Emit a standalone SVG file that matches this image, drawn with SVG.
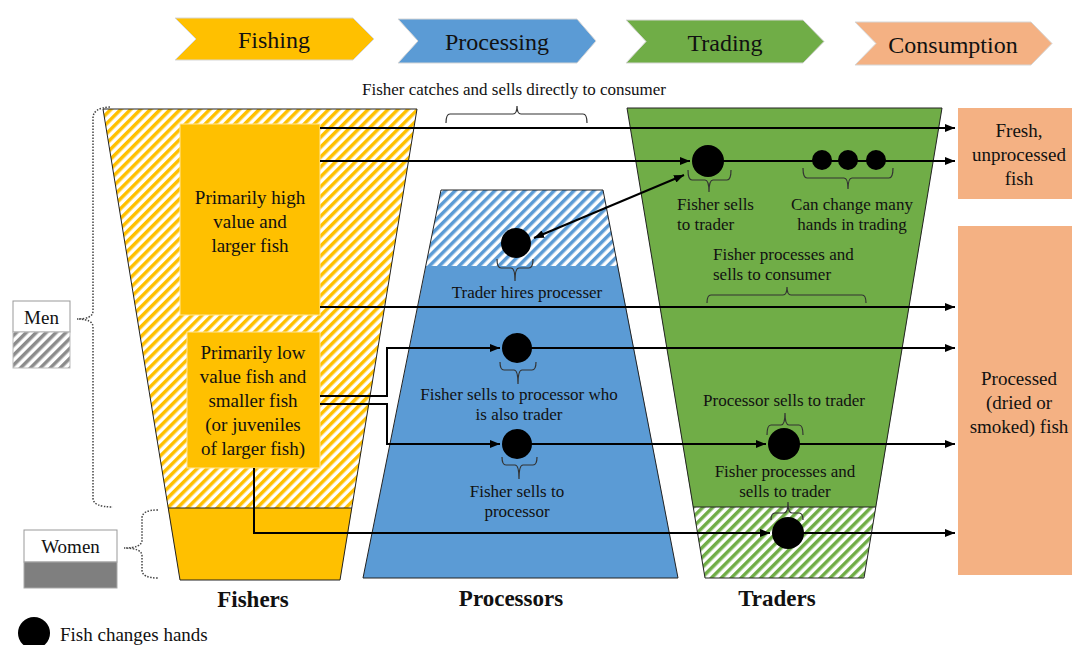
<svg xmlns="http://www.w3.org/2000/svg" width="1072" height="645" viewBox="0 0 1072 645">
<style>
text{font-family:"Liberation Serif","Times New Roman",serif;fill:#111}
.chev{font-size:24px;text-anchor:middle}
.big{font-size:19px;text-anchor:middle}
.sm{font-size:17px;text-anchor:middle}
.sml{font-size:17px}
.ttl{font-size:23px;font-weight:bold;text-anchor:middle}
.ln{fill:none;stroke:#000;stroke-width:2}
.br{fill:none;stroke:#333;stroke-width:1.2}
.dt{fill:none;stroke:#444;stroke-width:1.5;stroke-dasharray:1.5 1.5}
.trap{stroke:#222;stroke-width:1}
.chv{stroke:#d6d6d6;stroke-width:1}
</style>
<defs>
<pattern id="hy" width="7" height="7" patternUnits="userSpaceOnUse" patternTransform="rotate(45)"><rect width="7" height="7" fill="#fff"/><rect width="3.5" height="7" fill="#FFC000"/></pattern>
<pattern id="hb" width="7" height="7" patternUnits="userSpaceOnUse" patternTransform="rotate(45)"><rect width="7" height="7" fill="#fff"/><rect width="3.5" height="7" fill="#5B9BD5"/></pattern>
<pattern id="hg" width="7" height="7" patternUnits="userSpaceOnUse" patternTransform="rotate(45)"><rect width="7" height="7" fill="#fff"/><rect width="3.5" height="7" fill="#70AD47"/></pattern>
<pattern id="hk" width="7" height="7" patternUnits="userSpaceOnUse" patternTransform="rotate(45)"><rect width="7" height="7" fill="#fff"/><rect width="3.5" height="7" fill="#8c8c8c"/></pattern>
<marker id="ah" viewBox="0 0 10 8" refX="10" refY="4" markerWidth="10" markerHeight="8" markerUnits="userSpaceOnUse" orient="auto-start-reverse"><path d="M0,0 L10,4 L0,8 z" fill="#000"/></marker>
</defs>
<rect width="1072" height="645" fill="#fff"/>

<g id="stage-fishing"><polygon class="chv" points="175,18 353,18 374,39 353,60 175,60 196,39" fill="#FFC000"/><text class="chev" x="274" y="48">Fishing</text></g>
<g id="stage-processing"><polygon class="chv" points="398,19 577,19 596,41 577,63 398,63 418,41" fill="#5B9BD5"/><text class="chev" x="497" y="50">Processing</text></g>
<g id="stage-trading"><polygon class="chv" points="626,20 803,20 824,41.5 803,63 626,63 646,41.5" fill="#70AD47"/><text class="chev" x="725" y="51">Trading</text></g>
<g id="stage-consumption"><polygon class="chv" points="855,22 1031,22 1052,43.5 1031,65 855,65 876,43.5" fill="#F4B183"/><text class="chev" x="953" y="53">Consumption</text></g>

<g id="fishers">
<polygon points="103,109 417,109 352,508 168,508" fill="url(#hy)"/>
<polygon points="168,508 352,508 340,580 180,580" fill="#FFC000"/>
<polygon class="trap" points="103,109 417,109 340,580 180,580" fill="none"/>
<line class="trap" x1="168" y1="508" x2="352" y2="508"/>
<text class="ttl" x="253" y="607">Fishers</text>
</g>
<g id="high-value">
<rect x="180" y="124" width="140" height="191" fill="#FFC000" stroke="#FFE699" stroke-width="1"/>
<text class="big" x="250" y="204">Primarily high</text>
<text class="big" x="250" y="228">value and</text>
<text class="big" x="250" y="252">larger fish</text>
</g>
<g id="low-value">
<rect x="187" y="332" width="133" height="136" fill="#FFC000" stroke="#FFE699" stroke-width="1"/>
<text class="big" x="253" y="359">Primarily low</text>
<text class="big" x="253" y="383">value fish and</text>
<text class="big" x="253" y="407">smaller fish</text>
<text class="big" x="253" y="431">(or juveniles</text>
<text class="big" x="253" y="455">of larger fish)</text>
</g>

<g id="processors">
<polygon points="441,190 603,190 618,266 426,266" fill="url(#hb)"/>
<polygon points="426,266 618,266 678,578 363,578" fill="#5B9BD5"/>
<polygon class="trap" points="441,190 603,190 678,578 363,578" fill="none"/>
<text class="ttl" x="511" y="606">Processors</text>
</g>

<g id="traders">
<polygon points="627,108 942,108 876,507 693,507" fill="#70AD47"/>
<polygon points="693,507 876,507 864,578 705,578" fill="url(#hg)"/>
<polygon class="trap" points="627,108 942,108 864,578 705,578" fill="none"/>
<line class="trap" x1="693" y1="507" x2="876" y2="507"/>
<text class="ttl" x="777" y="606">Traders</text>
</g>

<g id="fresh-fish">
<rect x="958" y="108" width="114" height="91" fill="#F4B183"/>
<text class="big" x="1019" y="137">Fresh,</text>
<text class="big" x="1019" y="161">unprocessed</text>
<text class="big" x="1019" y="185">fish</text>
</g>
<g id="processed-fish">
<rect x="958" y="226" width="114" height="349" fill="#F4B183"/>
<text class="big" x="1019" y="385">Processed</text>
<text class="big" x="1019" y="409">(dried or</text>
<text class="big" x="1019" y="433">smoked) fish</text>
</g>

<g id="connectors">
<path class="ln" d="M320,128 H955" marker-end="url(#ah)"/>
<path class="ln" d="M320,161 H690" marker-end="url(#ah)"/>
<path class="ln" d="M708,161 H955" marker-end="url(#ah)"/>
<path class="ln" d="M320,307 H955" marker-end="url(#ah)"/>
<path class="ln" d="M320,396 H387 V348 H500" marker-end="url(#ah)"/>
<path class="ln" d="M517,348 H955" marker-end="url(#ah)"/>
<path class="ln" d="M320,404 H387 V444 H500" marker-end="url(#ah)"/>
<path class="ln" d="M517,444 H766" marker-end="url(#ah)"/>
<path class="ln" d="M784,444 H955" marker-end="url(#ah)"/>
<path class="ln" d="M254,468 V533 H770" marker-end="url(#ah)"/>
<path class="ln" d="M788,533 H955" marker-end="url(#ah)"/>
<path class="ln" d="M534,238 L684,175" marker-start="url(#ah)" marker-end="url(#ah)"/>
</g>

<g id="hands-dots" fill="#000">
<circle cx="516" cy="243" r="15"/>
<circle cx="517" cy="348" r="15"/>
<circle cx="517" cy="444" r="15"/>
<circle cx="708" cy="161" r="16"/>
<circle cx="822" cy="160" r="10"/>
<circle cx="848" cy="160" r="10"/>
<circle cx="876" cy="160" r="10"/>
<circle cx="784" cy="444" r="16"/>
<circle cx="788" cy="533" r="16"/>
</g>

<g id="braces">
<path class="br" d="M446,123 Q446,114 450,114 H513 Q517,114 517,106 Q517,114 521,114 H583 Q587,114 587,123"/>
<path class="br" d="M497,259 Q497,268 501,268 H511 Q515,268 515,281 Q515,268 519,268 H529 Q533,268 533,259"/>
<path class="br" d="M500,362 Q500,370 504,370 H514 Q518,370 518,384 Q518,370 522,370 H532 Q536,370 536,362"/>
<path class="br" d="M502,457 Q502,465 506,465 H515 Q519,465 519,479 Q519,465 523,465 H533 Q537,465 537,457"/>
<path class="br" d="M688,170 Q688,180 692,180 H705 Q709,180 709,192 Q709,180 713,180 H727 Q731,180 731,170"/>
<path class="br" d="M803,168 Q803,178 807,178 H844 Q848,178 848,189 Q848,178 852,178 H889 Q893,178 893,168"/>
<path class="br" d="M707,303 Q707,295 711,295 H783 Q787,295 787,287 Q787,295 791,295 H862 Q866,295 866,303"/>
<path class="br" d="M767,435 Q767,425 771,425 H781 Q785,425 785,413 Q785,425 789,425 H799 Q803,425 803,435"/>
<path class="br" d="M771,520 Q771,513 775,513 H784 Q788,513 788,502 Q788,513 792,513 H799 Q803,513 803,520"/>
</g>

<g id="labels">
<text class="sm" x="514" y="95">Fisher catches and sells directly to consumer</text>
<text class="sml" x="677" y="210">Fisher sells</text>
<text class="sml" x="677" y="230">to trader</text>
<text class="sm" x="852" y="210">Can change many</text>
<text class="sm" x="852" y="230">hands in trading</text>
<text class="sml" x="713" y="260">Fisher processes and</text>
<text class="sml" x="713" y="280">sells to consumer</text>
<text class="sm" x="527" y="298">Trader hires processer</text>
<text class="sm" x="519" y="400">Fisher sells to processor who</text>
<text class="sm" x="519" y="420">is also trader</text>
<text class="sm" x="517" y="497">Fisher sells to</text>
<text class="sm" x="517" y="517">processor</text>
<text class="sm" x="784" y="406">Processor sells to trader</text>
<text class="sm" x="785" y="477">Fisher processes and</text>
<text class="sm" x="785" y="497">sells to trader</text>
</g>

<g id="legend-men">
<rect x="13" y="301" width="57" height="31" fill="#fff" stroke="#999" stroke-width="1"/>
<rect x="13" y="332" width="57" height="36" fill="url(#hk)" stroke="#bbb" stroke-width="1"/>
<text class="big" x="41.5" y="324">Men</text>
<path class="dt" d="M110,107 Q93,108 93,118 V311 Q93,319 77,319 Q93,319 93,327 V498 Q93,507 113,507"/>
</g>
<g id="legend-women">
<rect x="24" y="530" width="93" height="32" fill="#fff" stroke="#999" stroke-width="1"/>
<rect x="24" y="562" width="93" height="26" fill="#7F7F7F" stroke="#aaa" stroke-width="1"/>
<text class="big" x="70.5" y="553">Women</text>
<path class="dt" d="M158,510 Q142,510 142,518 V540 Q142,548 124,548 Q142,548 142,556 V570 Q142,578 158,578"/>
</g>
<g id="legend-dot">
<circle cx="34" cy="633" r="16" fill="#000"/>
<text x="60" y="641" style="font-size:19px">Fish changes hands</text>
</g>
</svg>
